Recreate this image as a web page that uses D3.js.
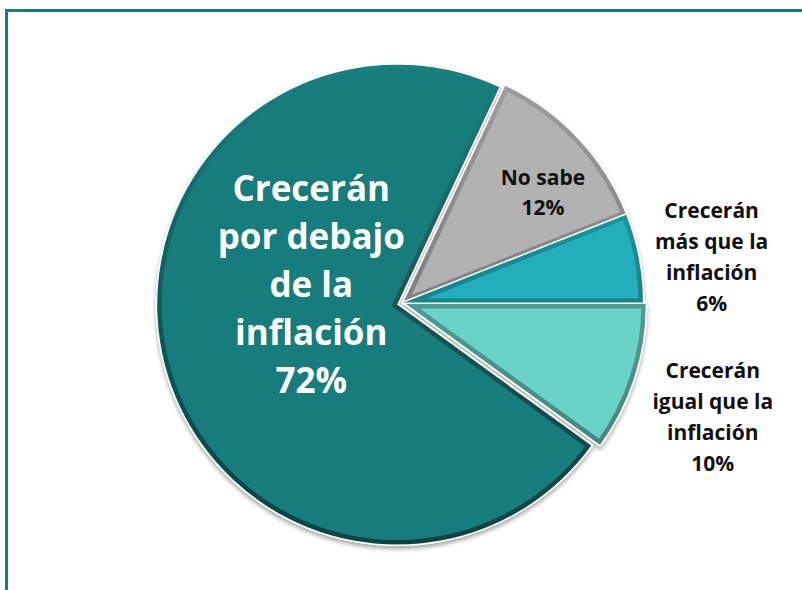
<!DOCTYPE html>
<html>
<head>
<meta charset="utf-8">
<script src="https://cdn.jsdelivr.net/npm/d3@7"></script>
<style>
  body { margin: 0; background: #fff; }
  svg { display: block; font-family: "Open Sans", "DejaVu Sans", sans-serif; }
</style>
</head>
<body>
<div id="chart"></div>
<script>
// slices, clockwise from the gray one
const categories = ['No sabe', 'Crecerán más que la inflación', 'Crecerán igual que la inflación', 'Crecerán por debajo de la inflación'];
const values = [12, 6, 10, 72];
const labelLines = [
  ['No sabe', '12%'],
  ['Crecerán', 'más que la', 'inflación', '6%'],
  ['Crecerán', 'igual que la', 'inflación', '10%'],
  ['Crecerán', 'por debajo', 'de la', 'inflación', '72%'],
];

const width = 802;
const height = 590;
const cx = 403;
const cy = 303;
const radius = 240;

const fills = ['#b2b2b2', '#21afbb', '#6bd3c7', '#177b7b'];
// bevel edge: lighter at top, darker at bottom
const edgeTop = ['#a0a0a0', '#1fb9c4', '#72d9ce', '#1a8181'];
const edgeBottom = ['#6f6f6f', '#126670', '#3d7872', '#0d4341'];
const explode = [0, 0, 3, 6];
// label anchor: fraction along the slice's angle, radius factor
const labelPos = [[0.616, 0.742], [0.61, 1.3], [0.56, 1.375], [0.6, 0.39]];
const labelStyle = [
  { size: 21, lh: 30, color: '#111' },
  { size: 21, lh: 31, color: '#111' },
  { size: 21, lh: 31, color: '#111' },
  { size: 35, lh: 48, color: '#fff' },
];

const svg = d3.select('#chart').append('svg')
  .attr('width', width)
  .attr('height', height);

// frame
svg.append('rect')
  .attr('x', 6.5).attr('y', 10.5)
  .attr('width', 900).attr('height', 700)
  .attr('fill', 'none')
  .attr('stroke', '#1a7a78')
  .attr('stroke-width', 3);

const defs = svg.append('defs');
const shadow = defs.append('filter').attr('id', 'shadow')
  .attr('x', '-10%').attr('y', '-10%').attr('width', '120%').attr('height', '120%');
shadow.append('feDropShadow')
  .attr('dx', 0).attr('dy', 3)
  .attr('stdDeviation', 2)
  .attr('flood-color', '#000')
  .attr('flood-opacity', 0.35);

const startAngle = (25.2 * Math.PI) / 180;
const pie = d3.pie().sort(null).startAngle(startAngle).endAngle(startAngle + 2 * Math.PI);
const arcs = pie(values);
const arc = d3.arc().innerRadius(0).outerRadius(radius);

const g = svg.append('g')
  .attr('transform', `translate(${cx},${cy})`)
  .attr('filter', 'url(#shadow)');

arcs.forEach((d, i) => {
  const mid = (d.startAngle + d.endAngle) / 2;
  const ox = Math.sin(mid) * explode[i];
  const oy = -Math.cos(mid) * explode[i];
  const sg = g.append('g').attr('transform', `translate(${ox},${oy})`);

  defs.append('clipPath').attr('id', `clip-${i}`)
    .append('path').attr('d', arc(d));

  const grad = defs.append('linearGradient').attr('id', `edge-${i}`)
    .attr('gradientUnits', 'userSpaceOnUse')
    .attr('x1', 0).attr('y1', -radius).attr('x2', 0).attr('y2', radius);
  grad.append('stop').attr('offset', '0%').attr('stop-color', edgeTop[i]);
  grad.append('stop').attr('offset', '45%').attr('stop-color', d3.interpolateRgb(edgeTop[i], edgeBottom[i])(0.6));
  grad.append('stop').attr('offset', '100%').attr('stop-color', edgeBottom[i]);

  sg.append('path')
    .attr('d', arc(d))
    .attr('fill', fills[i])
    .attr('stroke', '#fff')
    .attr('stroke-width', 3)
    .attr('stroke-linejoin', 'round');

  sg.append('path')
    .attr('d', arc(d))
    .attr('fill', 'none')
    .attr('stroke', `url(#edge-${i})`)
    .attr('stroke-width', 9)
    .attr('clip-path', `url(#clip-${i})`);
});

// labels
const labels = svg.append('g').attr('transform', `translate(${cx},${cy})`);
arcs.forEach((d, i) => {
  const [frac, rf] = labelPos[i];
  const a = d.startAngle + (d.endAngle - d.startAngle) * frac;
  const x = Math.sin(a) * radius * rf;
  const y = -Math.cos(a) * radius * rf;
  const st = labelStyle[i];
  const lines = labelLines[i];
  const y0 = y - ((lines.length - 1) * st.lh) / 2 + st.size * 0.36;

  const t = labels.append('text')
    .attr('text-anchor', 'middle')
    .attr('font-weight', 'bold')
    .attr('font-size', st.size)
    .attr('fill', st.color);

  lines.forEach((line, j) => {
    t.append('tspan')
      .attr('x', x)
      .attr('y', y0 + j * st.lh)
      .text(line);
  });
});
</script>
</body>
</html>
